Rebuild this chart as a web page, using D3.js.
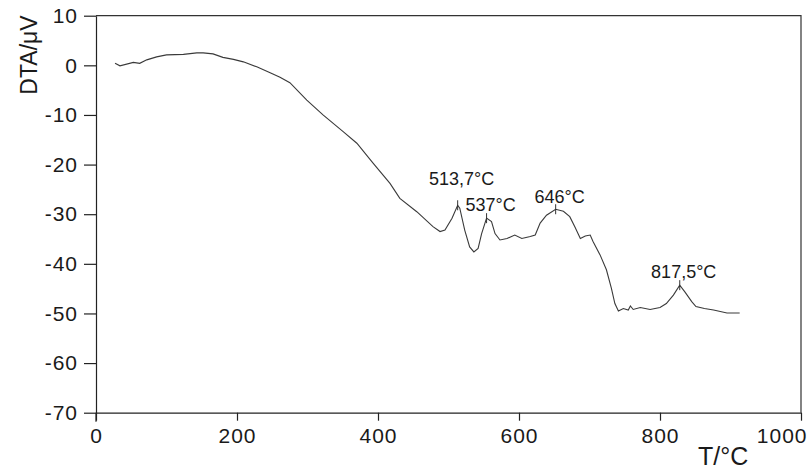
<!DOCTYPE html>
<html>
<head>
<meta charset="utf-8">
<script src="https://cdn.jsdelivr.net/npm/d3@7"></script>
<style>
  body { margin: 0; background: #fff; }
  text { font-family: "Liberation Sans", Arial, sans-serif; fill: #1a1a1a; }
</style>
</head>
<body>
<script>
// DTA curve
var temps = [27, 34, 53, 62, 72, 86, 100, 124, 143, 152, 166, 180, 195, 209, 228, 247, 261, 275, 299, 322,
  351, 370, 393, 417, 431, 455, 478, 488, 495, 505, 513, 516, 523, 530, 536, 542, 547, 554, 561, 566,
  573, 583, 594, 604, 616, 623, 630, 639, 652, 663, 672, 679, 687, 694, 701, 705, 715, 724, 731, 736,
  741, 748, 755, 758, 762, 772, 786, 800, 809, 819, 828, 835, 845, 851, 863, 876, 895, 913];
var dta = [0.4, -0.1, 0.6, 0.4, 1.1, 1.7, 2.1, 2.2, 2.5, 2.5, 2.3, 1.6, 1.2, 0.7, -0.3, -1.5, -2.4, -3.5, -7.0, -10.0,
  -13.4, -15.7, -19.7, -23.8, -26.8, -29.5, -32.5, -33.5, -33.2, -30.8, -28.2, -28.8, -33.2, -36.6, -37.6, -36.9, -33.9, -30.8, -31.5, -33.9,
  -35.2, -34.9, -34.2, -34.9, -34.5, -34.2, -31.8, -30.2, -29.0, -29.4, -30.5, -32.5, -34.9, -34.4, -34.2, -35.5, -38.2, -41.2, -44.9, -48.0,
  -49.5, -49.0, -49.3, -48.5, -49.2, -48.8, -49.2, -48.8, -48.0, -46.3, -44.3, -45.6, -47.6, -48.6, -49.0, -49.3, -49.9, -49.9];

var peakNames = ["513,7°C", "537°C", "646°C", "817,5°C"];
var peakT = [513, 554, 652, 828];
var peakV = [-28.2, -30.8, -29.0, -44.3];

var xTicks = [0, 200, 400, 600, 800, 1000];
var yTicks = [10, 0, -10, -20, -30, -40, -50, -60, -70];

var width = 809, height = 471;

var svg = d3.select('body').append('svg')
  .attr('width', width)
  .attr('height', height);

var x = d3.scaleLinear().domain([0, 1000]).range([96, 801]);
var y = d3.scaleLinear().domain([-70, 10]).range([412.7, 15.7]);

var plain = function(d) { return String(d); };

// frame top + right
svg.append('path')
  .attr('d', 'M' + x(0) + ',' + y(10) + 'H' + x(1000) + 'V' + y(-70))
  .attr('fill', 'none')
  .attr('stroke', '#333')
  .attr('stroke-width', 1.2);

var gx = svg.append('g')
  .attr('transform', 'translate(0,' + y(-70) + ')')
  .call(d3.axisBottom(x).tickValues(xTicks).tickFormat(plain).tickSize(8).tickSizeOuter(0).tickPadding(7));

var gy = svg.append('g')
  .attr('transform', 'translate(' + x(0) + ',0)')
  .call(d3.axisLeft(y).tickValues(yTicks).tickFormat(plain).tickSize(12).tickSizeOuter(0).tickPadding(6));

[gx, gy].forEach(function(g) {
  g.selectAll('path, line').attr('stroke', '#222').attr('stroke-width', 1.2);
  g.selectAll('text')
    .attr('font-size', 21)
    .attr('letter-spacing', 1)
    .attr('font-family', '"Liberation Sans", Arial, sans-serif')
    .attr('fill', '#1a1a1a');
});

// last x label sits flush against the right edge
gx.selectAll('.tick text')
  .filter(function(d) { return d === 1000; })
  .attr('text-anchor', 'end')
  .attr('x', 6);

// the y axis runs a little below the x axis
svg.append('line')
  .attr('x1', x(0)).attr('x2', x(0))
  .attr('y1', y(-70)).attr('y2', y(-70) + 9)
  .attr('stroke', '#222').attr('stroke-width', 1.2);

var line = d3.line()
  .x(function(d, i) { return x(temps[i]); })
  .y(function(d) { return y(d); });

svg.append('path')
  .datum(dta)
  .attr('d', line)
  .attr('fill', 'none')
  .attr('stroke', '#3a3a3a')
  .attr('stroke-width', 1.1);

// peak marks + labels
var lift = [20, 7, 6, 7];
peakNames.forEach(function(name, i) {
  var px = x(peakT[i]), py = y(peakV[i]);
  svg.append('line')
    .attr('x1', px).attr('x2', px)
    .attr('y1', py - 5).attr('y2', py + 5)
    .attr('stroke', '#333').attr('stroke-width', 1);
  svg.append('text')
    .attr('x', px + 4)
    .attr('y', py - lift[i])
    .attr('text-anchor', 'middle')
    .attr('font-size', 18)
    .text(name);
});

svg.append('text')
  .attr('transform', 'translate(37,55) rotate(-90)')
  .attr('text-anchor', 'middle')
  .attr('font-size', 23)
  .text('DTA/μV');

svg.append('text')
  .attr('x', 698)
  .attr('y', 465)
  .attr('font-size', 25)
  .text('T/°C');
</script>
</body>
</html>
